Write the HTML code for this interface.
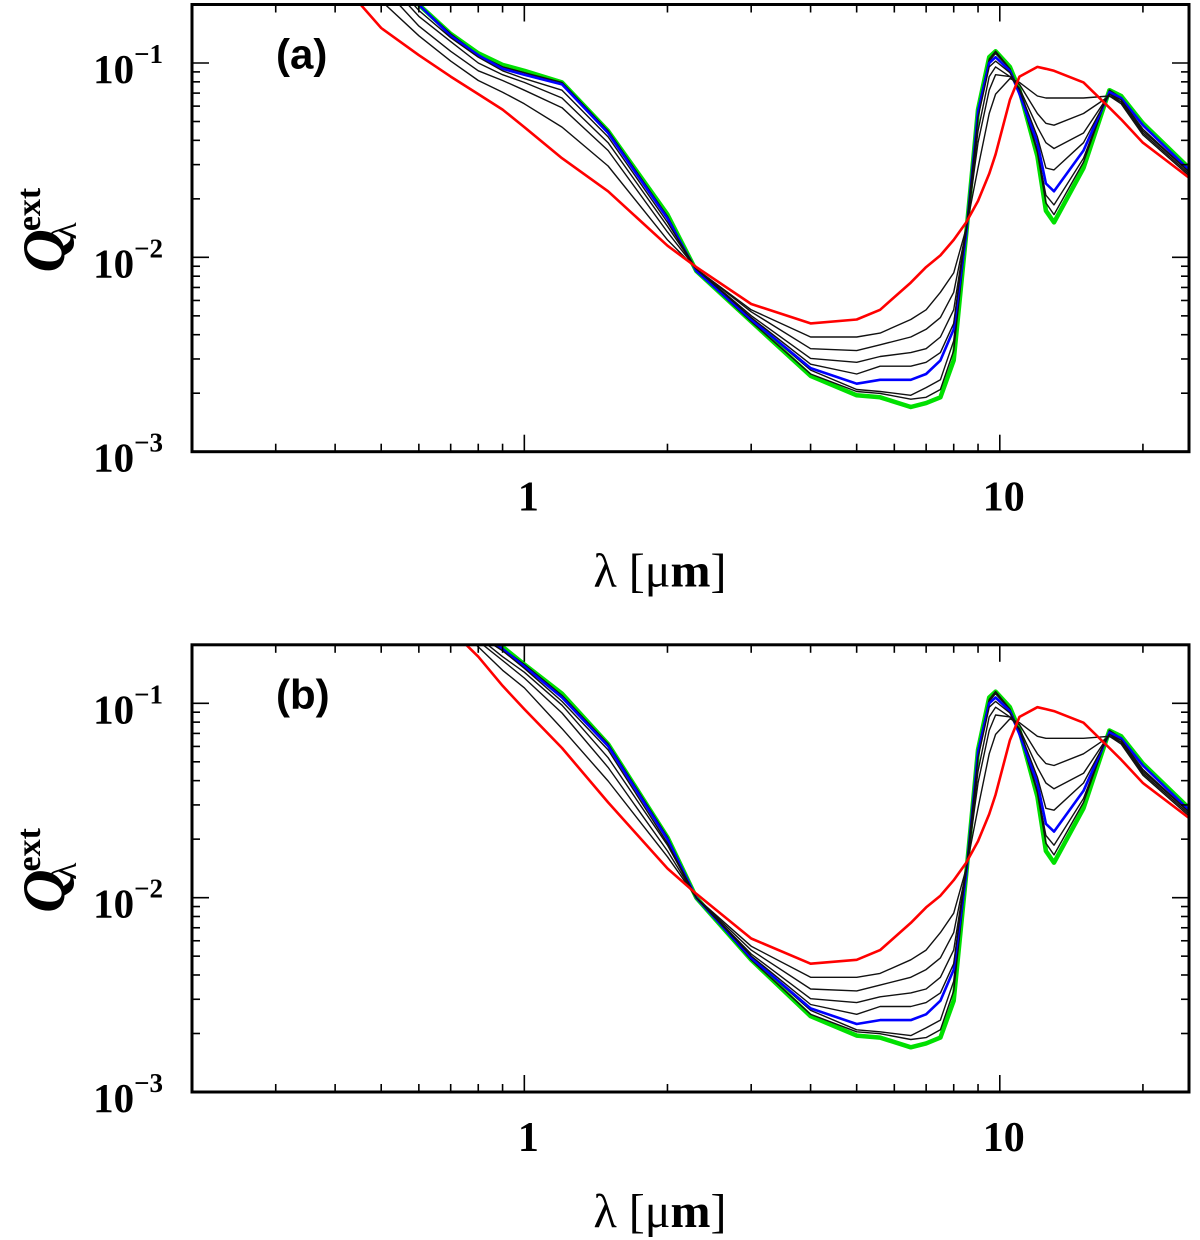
<!DOCTYPE html>
<html><head><meta charset="utf-8"><style>
html,body{margin:0;padding:0;background:#fff;}
svg{display:block;}
</style></head><body>
<svg id="chart" width="1200" height="1240" viewBox="0 0 1200 1240" xmlns="http://www.w3.org/2000/svg"></svg>
<script>
// Wavelength grid (micrometres)
const lambdaA = [0.3,0.4,0.5,0.6,0.7,0.8,0.9,1.0,1.2,1.5,2.0,2.3,3,4,5,5.6,6.5,7,7.5,8,8.5,9,9.5,9.8,10.5,11,12,12.5,13,15,17,18,20,25];
// Panel (a) series: log10 of Q_ext
const aRed = [-0.42,-0.55,-0.82,-0.96,-1.07,-1.16,-1.24,-1.33,-1.49,-1.66,-1.94,-2.05,-2.24,-2.34,-2.32,-2.27,-2.13,-2.05,-1.99,-1.91,-1.82,-1.71,-1.57,-1.47,-1.19,-1.07,-1.02,-1.03,-1.04,-1.10,-1.23,-1.29,-1.41,-1.59];
const aK1 = [-0.06,-0.42,-0.68,-0.86,-0.99,-1.09,-1.15,-1.21,-1.33,-1.53,-1.91,-2.06,-2.27,-2.41,-2.41,-2.39,-2.32,-2.27,-2.18,-2.08,-1.85,-1.54,-1.26,-1.16,-1.08,-1.10,-1.17,-1.18,-1.18,-1.18,-1.17,-1.21,-1.37,-1.58];
const aK2 = [-0.01,-0.34,-0.60,-0.81,-0.94,-1.04,-1.09,-1.14,-1.23,-1.45,-1.87,-2.06,-2.28,-2.47,-2.48,-2.45,-2.41,-2.37,-2.31,-2.18,-1.86,-1.41,-1.14,-1.06,-1.07,-1.11,-1.26,-1.31,-1.32,-1.26,-1.17,-1.20,-1.36,-1.57];
const aK3 = [0.04,-0.29,-0.55,-0.76,-0.89,-1.00,-1.06,-1.10,-1.18,-1.41,-1.84,-2.06,-2.30,-2.52,-2.54,-2.51,-2.49,-2.47,-2.41,-2.27,-1.86,-1.35,-1.07,-1.02,-1.07,-1.13,-1.33,-1.41,-1.44,-1.36,-1.16,-1.20,-1.35,-1.56];
const aK4 = [0.07,-0.24,-0.51,-0.73,-0.87,-0.97,-1.04,-1.08,-1.14,-1.38,-1.82,-2.06,-2.31,-2.55,-2.60,-2.56,-2.56,-2.54,-2.49,-2.34,-1.86,-1.28,-1.02,-0.99,-1.05,-1.14,-1.38,-1.54,-1.55,-1.41,-1.16,-1.19,-1.34,-1.56];
const aBlue = [0.09,-0.22,-0.50,-0.70,-0.86,-0.96,-1.03,-1.06,-1.11,-1.36,-1.80,-2.07,-2.32,-2.57,-2.65,-2.63,-2.63,-2.60,-2.53,-2.37,-1.88,-1.25,-1.00,-0.97,-1.04,-1.16,-1.41,-1.62,-1.66,-1.45,-1.15,-1.18,-1.32,-1.55];
const aK5 = [0.09,-0.22,-0.50,-0.70,-0.85,-0.96,-1.02,-1.05,-1.11,-1.35,-1.79,-2.07,-2.32,-2.58,-2.68,-2.69,-2.71,-2.67,-2.63,-2.43,-1.88,-1.24,-0.99,-0.95,-1.03,-1.15,-1.45,-1.68,-1.73,-1.49,-1.14,-1.18,-1.32,-1.55];
const aK6 = [0.09,-0.22,-0.50,-0.70,-0.85,-0.96,-1.02,-1.05,-1.10,-1.35,-1.79,-2.07,-2.33,-2.60,-2.69,-2.70,-2.73,-2.72,-2.68,-2.48,-1.88,-1.24,-0.98,-0.94,-1.03,-1.15,-1.46,-1.72,-1.78,-1.51,-1.14,-1.18,-1.32,-1.55];
const aGreen = [0.09,-0.22,-0.50,-0.70,-0.85,-0.95,-1.01,-1.04,-1.10,-1.35,-1.78,-2.07,-2.33,-2.61,-2.71,-2.72,-2.77,-2.75,-2.72,-2.53,-1.88,-1.24,-0.97,-0.94,-1.02,-1.14,-1.48,-1.76,-1.82,-1.54,-1.14,-1.17,-1.31,-1.54];
// Panel (b) series: log10 of Q_ext
const bRed = [0.38,0.05,-0.22,-0.44,-0.62,-0.76,-0.91,-1.03,-1.23,-1.51,-1.85,-1.98,-2.21,-2.34,-2.32,-2.27,-2.13,-2.05,-1.99,-1.91,-1.82,-1.71,-1.57,-1.47,-1.19,-1.07,-1.02,-1.03,-1.04,-1.10,-1.23,-1.29,-1.41,-1.59];
const bK1 = [0.36,0.04,-0.22,-0.42,-0.58,-0.71,-0.83,-0.92,-1.13,-1.40,-1.79,-2.00,-2.25,-2.41,-2.41,-2.39,-2.32,-2.27,-2.18,-2.08,-1.85,-1.54,-1.26,-1.16,-1.08,-1.10,-1.17,-1.18,-1.18,-1.18,-1.17,-1.21,-1.37,-1.58];
const bK2 = [0.37,0.06,-0.19,-0.40,-0.55,-0.68,-0.78,-0.87,-1.05,-1.33,-1.76,-2.00,-2.27,-2.47,-2.48,-2.45,-2.41,-2.37,-2.31,-2.18,-1.86,-1.41,-1.14,-1.06,-1.07,-1.11,-1.26,-1.31,-1.32,-1.26,-1.17,-1.20,-1.36,-1.57];
const bK3 = [0.38,0.07,-0.18,-0.39,-0.54,-0.66,-0.76,-0.84,-1.01,-1.28,-1.73,-2.00,-2.29,-2.52,-2.54,-2.51,-2.49,-2.47,-2.41,-2.27,-1.86,-1.35,-1.07,-1.02,-1.07,-1.13,-1.33,-1.41,-1.44,-1.36,-1.16,-1.20,-1.35,-1.56];
const bK4 = [0.39,0.08,-0.17,-0.38,-0.53,-0.65,-0.73,-0.82,-0.99,-1.24,-1.72,-2.00,-2.30,-2.55,-2.60,-2.56,-2.56,-2.54,-2.49,-2.34,-1.86,-1.28,-1.02,-0.99,-1.05,-1.14,-1.38,-1.54,-1.55,-1.41,-1.16,-1.19,-1.34,-1.56];
const bBlue = [0.40,0.09,-0.16,-0.37,-0.52,-0.64,-0.72,-0.81,-0.97,-1.22,-1.70,-2.00,-2.31,-2.57,-2.65,-2.63,-2.63,-2.60,-2.53,-2.37,-1.88,-1.25,-1.00,-0.97,-1.04,-1.16,-1.41,-1.62,-1.66,-1.45,-1.15,-1.18,-1.32,-1.55];
const bK5 = [0.40,0.09,-0.16,-0.37,-0.52,-0.63,-0.72,-0.80,-0.96,-1.21,-1.69,-2.00,-2.31,-2.58,-2.68,-2.69,-2.71,-2.67,-2.63,-2.43,-1.88,-1.24,-0.99,-0.95,-1.03,-1.15,-1.45,-1.68,-1.73,-1.49,-1.14,-1.18,-1.32,-1.55];
const bK6 = [0.40,0.09,-0.16,-0.37,-0.52,-0.63,-0.72,-0.80,-0.96,-1.21,-1.69,-2.00,-2.32,-2.60,-2.69,-2.70,-2.73,-2.72,-2.68,-2.48,-1.88,-1.24,-0.98,-0.94,-1.03,-1.15,-1.46,-1.72,-1.78,-1.51,-1.14,-1.18,-1.32,-1.55];
const bGreen = [0.40,0.09,-0.16,-0.37,-0.52,-0.63,-0.71,-0.80,-0.95,-1.21,-1.69,-2.00,-2.32,-2.61,-2.71,-2.72,-2.77,-2.75,-2.72,-2.53,-1.88,-1.24,-0.97,-0.94,-1.02,-1.14,-1.48,-1.76,-1.82,-1.54,-1.14,-1.17,-1.31,-1.54];
const xTickLabels = ["1","10"];
const xTickValues = [1,10];
const yTickExps = [-1,-2,-3];

const NS = "http://www.w3.org/2000/svg";
const svg = document.getElementById('chart');
function mk(tag, attrs, parent){const e=document.createElementNS(NS,tag);for(const k in attrs)e.setAttribute(k,attrs[k]);(parent||svg).appendChild(e);return e;}

const X0=192, X1=1189, LX0=Math.log10(0.2), LX1=Math.log10(25);
function xs(v){return X0+(Math.log10(v)-LX0)/(LX1-LX0)*(X1-X0);}
const LYMAX=Math.log10(0.2), LYMIN=-3;

function panel(top, bottom, label, series, key){
  const g=mk('g',{});
  
  
  const ys=lq=>bottom-(lq-LYMIN)/(LYMAX-LYMIN)*(bottom-top);
  const cid='clip-'+key;
  const cp=mk('clipPath',{id:cid},g);
  mk('rect',{x:X0,y:top,width:X1-X0,height:bottom-top},cp);
  const lines=mk('g',{'clip-path':'url(#'+cid+')'},g);
  
  
  series.forEach(s=>{
    const d=s.vals.map((v,i)=>(i?'L':'M')+xs(lambdaA[i]).toFixed(1)+','+ys(v).toFixed(1)).join(' ');
    const p=mk('path',{d:d,fill:'none',stroke:s.color,'stroke-width':s.w,'stroke-linejoin':'round'},lines);
    
    
  });
  const tk=mk('g',{stroke:'#000','stroke-width':1.6},g);
  
  
  for(let dec=-1;dec<=1;dec++){for(let m=1;m<10;m++){const v=m*Math.pow(10,dec);if(v<0.2||v>25)continue;const x=xs(v);const L=(m===1)?17:8;
    mk('line',{x1:x,y1:bottom,x2:x,y2:bottom-L},tk);mk('line',{x1:x,y1:top,x2:x,y2:top+L},tk);}}
  for(let dec=-3;dec<=-1;dec++){for(let m=1;m<10;m++){const lv=Math.log10(m)+dec;if(lv>LYMAX+1e-6||lv<=LYMIN)continue;const y=ys(lv);const L=(m===1)?17:8;
    mk('line',{x1:X0,y1:y,x2:X0+L,y2:y},tk);mk('line',{x1:X1,y1:y,x2:X1-L,y2:y},tk);}}
  const fr=mk('rect',{x:X0,y:top,width:X1-X0,height:bottom-top,fill:'none',stroke:'#000','stroke-width':3},g);
  
  
  yTickExps.forEach(e=>{
    const t=mk('text',{x:163,y:ys(e)+20,'text-anchor':'end','font-family':'Liberation Serif, serif','font-weight':'bold','font-size':41},g);
    
    
    t.innerHTML='10<tspan dy="-20" font-size="27">−'+(-e)+'</tspan>';
  });
  xTickValues.forEach((v,i)=>{
    const t=mk('text',{x:xs(v)+4,y:bottom+59,'text-anchor':'middle','font-family':'Liberation Serif, serif','font-weight':'bold','font-size':42},g);
    
    
    t.textContent=xTickLabels[i];
  });
  const xt=mk('text',{x:660,y:bottom+135,'text-anchor':'middle','font-family':'Liberation Serif, serif','font-size':48},g);
  
  
  xt.innerHTML='λ [μ<tspan font-weight="bold">m</tspan>]';
  const yt=mk('text',{transform:'translate(64,'+(top+268)+') rotate(-90)','font-family':'Liberation Serif, serif','font-size':60,'font-weight':'bold'},g);
  
  
  yt.innerHTML='<tspan font-style="italic">Q</tspan><tspan font-size="34" dy="-24" dx="-2">ext</tspan><tspan font-size="36" dy="36" dx="-52" font-weight="normal">λ</tspan>';
  const pl=mk('text',{x:276,y:top+64,'font-family':'Liberation Sans, sans-serif','font-weight':'bold','font-size':42},g);
  
  
  pl.textContent=label;
}
panel(4.5,451.7,'(a)',[
  {name:'green',color:'#00e000',w:4.5,vals:aGreen},
  {name:'black-6',color:'#111',w:1.4,vals:aK6},
  {name:'black-5',color:'#111',w:1.4,vals:aK5},
  {name:'blue',color:'#0000ff',w:2.6,vals:aBlue},
  {name:'black-4',color:'#111',w:1.4,vals:aK4},
  {name:'black-3',color:'#111',w:1.4,vals:aK3},
  {name:'black-2',color:'#111',w:1.4,vals:aK2},
  {name:'black-1',color:'#111',w:1.4,vals:aK1},
  {name:'red',color:'#ff0000',w:2.6,vals:aRed}],'a');
panel(644.8,1092,'(b)',[
  {name:'green',color:'#00e000',w:4.5,vals:bGreen},
  {name:'black-6',color:'#111',w:1.4,vals:bK6},
  {name:'black-5',color:'#111',w:1.4,vals:bK5},
  {name:'blue',color:'#0000ff',w:2.6,vals:bBlue},
  {name:'black-4',color:'#111',w:1.4,vals:bK4},
  {name:'black-3',color:'#111',w:1.4,vals:bK3},
  {name:'black-2',color:'#111',w:1.4,vals:bK2},
  {name:'black-1',color:'#111',w:1.4,vals:bK1},
  {name:'red',color:'#ff0000',w:2.6,vals:bRed}],'b');
</script>
</body></html>
